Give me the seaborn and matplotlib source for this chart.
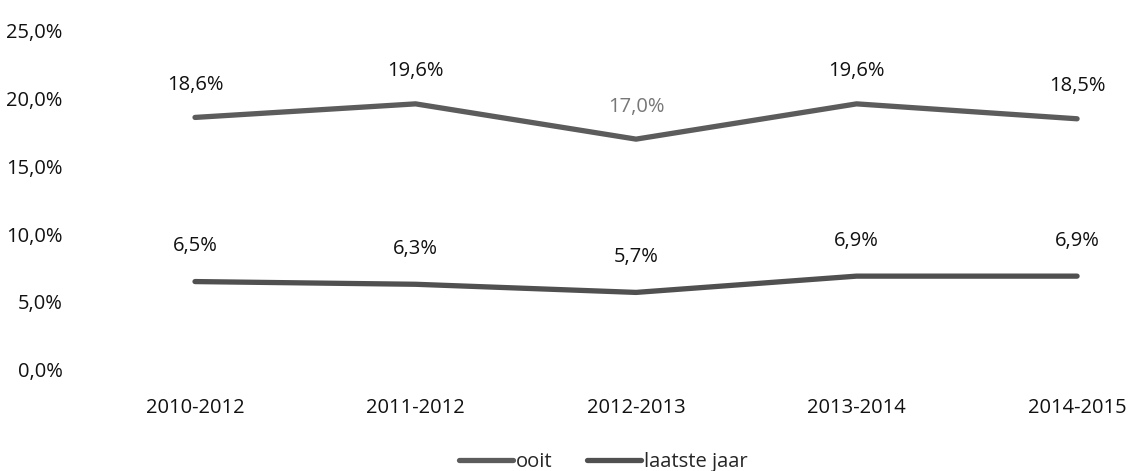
import matplotlib.pyplot as plt
import pandas as pd
import seaborn as sns
from matplotlib.ticker import FuncFormatter

periods = ["2010-2012", "2011-2012", "2012-2013", "2013-2014", "2014-2015"]
ooit = [18.6, 19.6, 17.0, 19.6, 18.5]
laatste_jaar = [6.5, 6.3, 5.7, 6.9, 6.9]

df = pd.DataFrame({
    "periode": periods * 2,
    "waarde": ooit + laatste_jaar,
    "reeks": ["ooit"] * 5 + ["laatste jaar"] * 5,
})
df["x"] = list(range(5)) * 2

sns.set_theme(style="white")
plt.rcParams["font.family"] = ["Open Sans", "DejaVu Sans"]

fig = plt.figure(figsize=(11.3, 4.71), dpi=100)
ax = fig.add_axes([0.075, 0.215, 0.925, 0.72])

sns.lineplot(
    data=df, x="x", y="waarde", hue="reeks",
    palette={"ooit": "#5c5c5c", "laatste jaar": "#505050"},
    linewidth=3.8, ax=ax, legend=True,
)

# data labels
fs = 14.5
for i, v in enumerate(ooit):
    c = "#777777" if i == 2 else "#111111"
    ax.text(i, v + 2.4, f"{v:.1f}%".replace(".", ","), ha="center",
            va="center", fontsize=fs, color=c)
for i, v in enumerate(laatste_jaar):
    ax.text(i, v + 2.6, f"{v:.1f}%".replace(".", ","), ha="center",
            va="center", fontsize=fs, color="#111111")

ax.set_ylim(0, 25)
ax.set_xlim(-0.5, 4.24)
ax.set_yticks([0, 5, 10, 15, 20, 25])
ax.yaxis.set_major_formatter(FuncFormatter(lambda v, p: f"{v:.1f}%".replace(".", ",")))
ax.set_xticks(range(5))
ax.set_xticklabels(periods)
ax.tick_params(axis="y", labelsize=fs, pad=16, length=0, colors="#111111")
ax.tick_params(axis="x", labelsize=fs, pad=20, length=0, colors="#111111")
ax.set_xlabel("")
ax.set_ylabel("")
for s in ax.spines.values():
    s.set_visible(False)

ax.legend(
    loc="upper center", bbox_to_anchor=(0.496, -0.19), ncol=2, frameon=False,
    fontsize=fs, handlelength=2.7, handletextpad=0.15, columnspacing=1.7,
)

fig.savefig("out.png", dpi=100, facecolor="white")
